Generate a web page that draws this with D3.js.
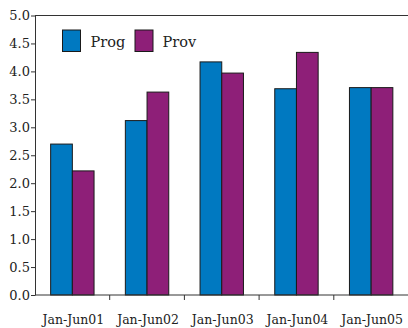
<!DOCTYPE html>
<html>
<head>
<meta charset="utf-8">
<script src="https://cdn.jsdelivr.net/npm/d3@7"></script>
<style>
  html, body { margin: 0; padding: 0; background: #fff; }
  svg { display: block; }
  text { font-family: "DejaVu Serif", "Liberation Serif", serif; fill: #222; }
</style>
</head>
<body>
<svg id="chart" width="408" height="328"></svg>
<script>
// Half-year periods and the two series
const periods = ["Jan-Jun01", "Jan-Jun02", "Jan-Jun03", "Jan-Jun04", "Jan-Jun05"];
const seriesNames = ["Prog", "Prov"];
const progValues = [2.70, 3.12, 4.17, 3.69, 3.71];
const provValues = [2.22, 3.63, 3.97, 4.34, 3.71];
const yTicks = [0, 0.5, 1, 1.5, 2, 2.5, 3, 3.5, 4, 4.5, 5];
const colors = { Prog: "#0079c1", Prov: "#8e1f78" };

const svg = d3.select("#chart");
const margin = { left: 35, right: 0, top: 15.5, bottom: 33 };
const W = 408, H = 328;
const x0 = margin.left, x1 = W, yTop = margin.top, yBot = H - margin.bottom;

const x = d3.scaleBand().domain(periods).range([x0, x1 + 0.5]).paddingInner(0).paddingOuter(0);
const inner = d3.scaleBand().domain(seriesNames).range([0, 43.4]);
const y = d3.scaleLinear().domain([0, 5]).range([yBot, yTop]);

const rows = periods.map((p, i) => ({ period: p, Prog: progValues[i], Prov: provValues[i] }));

// Bars
const groups = svg.append("g").selectAll("g").data(rows).join("g")
  .attr("transform", d => `translate(${x(d.period) + (x.bandwidth() - 43.4) / 2},0)`);
groups.selectAll("rect")
  .data(d => seriesNames.map(s => ({ s, v: d[s] })))
  .join("rect")
  .attr("x", d => inner(d.s))
  .attr("width", inner.bandwidth())
  .attr("y", d => y(d.v))
  .attr("height", d => y(0) - y(d.v))
  .attr("fill", d => colors[d.s])
  .attr("stroke", "#1a1a1a")
  .attr("stroke-width", 1);

// Top frame line
svg.append("line")
  .attr("x1", x0).attr("x2", W).attr("y1", yTop).attr("y2", yTop)
  .attr("stroke", "#333").attr("stroke-width", 1);

// Y axis
const yAxis = d3.axisLeft(y).tickValues(yTicks).tickFormat(d3.format(".1f"))
  .tickSize(4).tickSizeOuter(0).tickPadding(1);
const gy = svg.append("g").attr("transform", `translate(${x0},0)`).call(yAxis);
gy.select(".domain").attr("stroke", "#333");
gy.selectAll(".tick line").attr("stroke", "#333");
gy.selectAll(".tick text").style("font-size", "13px").attr("fill", "#222");

// X axis: ticks at band boundaries
const boundaries = periods.slice(1).map(p => x(p));
const gx = svg.append("g").attr("transform", `translate(0,${yBot})`);
gx.append("line").attr("x1", x0).attr("x2", W).attr("stroke", "#333").attr("stroke-width", 1);
gx.selectAll("line.tk").data(boundaries).join("line").attr("class", "tk")
  .attr("x1", d => d).attr("x2", d => d).attr("y1", 0).attr("y2", 5)
  .attr("stroke", "#333");
gx.selectAll("text").data(periods).join("text")
  .attr("x", d => x(d) + x.bandwidth() / 2 + 1)
  .attr("y", 29)
  .attr("text-anchor", "middle")
  .style("font-size", "12.5px")
  .text(d => d);

// Legend
const legend = svg.append("g");
const legendItems = [{ s: "Prog", x: 62.5, tx: 90.5 }, { s: "Prov", x: 135, tx: 162.5 }];
legend.selectAll("rect").data(legendItems).join("rect")
  .attr("x", d => d.x).attr("y", 30).attr("width", 18).attr("height", 21.5)
  .attr("fill", d => colors[d.s]).attr("stroke", "#1a1a1a").attr("stroke-width", 1);
legend.selectAll("text").data(legendItems).join("text")
  .attr("x", d => d.tx).attr("y", 47)
  .style("font-size", "14.5px")
  .text(d => d.s);
</script>
</body>
</html>
